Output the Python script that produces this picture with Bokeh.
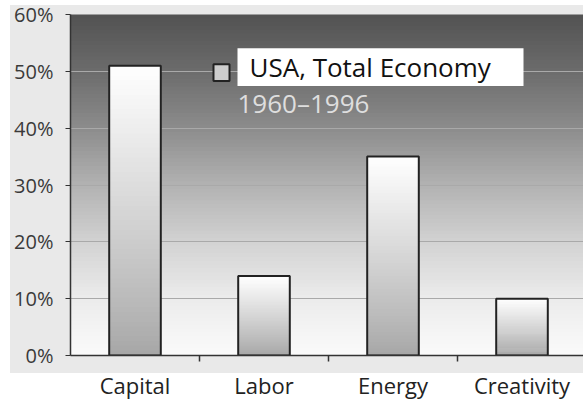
import numpy as np
from bokeh.plotting import figure
from bokeh.models import (Range1d, FixedTicker, NumeralTickFormatter, ColumnDataSource,
                          Label, BoxAnnotation)
from bokeh.embed import file_html
from bokeh.resources import INLINE

# ---- data ----
categories = ["Capital", "Labor", "Energy", "Creativity"]
shares = [0.51, 0.14, 0.35, 0.10]
y_ticks = [0.0, 0.1, 0.2, 0.3, 0.4, 0.5, 0.6]
legend_title = "USA, Total Economy"
legend_sub = "1960\u20131996"

# ---- layout ----
W, H = 583, 402
FL, FT, FB = 70, 14, 357          # frame left / top / bottom (px)
CAT_PX = 129.0
FRAME_W = W - FL
x_end = FRAME_W / CAT_PX
y_end = 0.6
FONT = "Open Sans"

p = figure(width=W, height=H, output_backend="svg", toolbar_location=None,
           x_range=Range1d(0, x_end), y_range=Range1d(0, y_end),
           min_border_left=FL, min_border_right=0, min_border_top=FT, min_border_bottom=H - FB,
           border_fill_color=None, outline_line_color=None, background_fill_color=None)
p.styles = {"background": "linear-gradient(#e9e9e9, #e9e9e9) 10px 5px / 573px 368px no-repeat, #ffffff"}

def gray(v):
    v = int(round(max(0, min(255, v))))
    return "#%02x%02x%02x" % (v, v, v)

# background gradient (dark top -> light bottom)
anchor_t = [0.0, 0.167, 0.333, 0.5, 0.667, 0.833, 1.0]
anchor_v = [0xfa, 0xec, 0xd2, 0xb2, 0x8c, 0x6c, 0x52]
nb = 90
edges = np.linspace(0, y_end, nb + 1)
bg_b = edges[:-1]
bg_t = edges[1:] + (edges[1] - edges[0]) * 0.6
bg_c = [gray(np.interp(((b + t2) / 2) / y_end, anchor_t, anchor_v)) for b, t2 in zip(edges[:-1], edges[1:])]
p.quad(left=0, right=x_end, bottom=bg_b, top=bg_t, fill_color=bg_c, line_color=None, level="image")

# bars with vertical gradient (white top -> gray bottom)
bw = 0.4
centers = [i + 0.5 for i in range(len(categories))]
L, R, B, T, C = [], [], [], [], []
ns = 60
for cx, v in zip(centers, shares):
    e = np.linspace(0, v, ns + 1)
    for k in range(ns):
        frac = (k + 0.5) / ns
        L.append(cx - bw / 2); R.append(cx + bw / 2)
        B.append(e[k]); T.append(min(v, e[k + 1] + (e[1] - e[0]) * 0.6))
        C.append(gray(0xa6 + (0xff - 0xa6) * frac ** 0.9))
p.quad(left=L, right=R, bottom=B, top=T, fill_color=C, line_color=None)
src = ColumnDataSource(dict(x=centers, top=shares))
p.vbar(x="x", top="top", bottom=0, width=bw, source=src, fill_color=None,
       line_color="#222222", line_width=2)

# grid
p.xgrid.visible = False
p.ygrid.ticker = FixedTicker(ticks=y_ticks)
p.ygrid.grid_line_color = "#a9a9a9"
p.ygrid.grid_line_width = 1

# y axis
ya = p.yaxis[0]
ya.ticker = FixedTicker(ticks=y_ticks)
ya.formatter = NumeralTickFormatter(format="0%")
ya.axis_line_color = "#333333"
ya.axis_line_width = 1.5
ya.major_tick_line_color = "#333333"
ya.major_tick_out = 5
ya.major_tick_in = 0
ya.minor_tick_line_color = None
ya.major_label_text_font = FONT
ya.major_label_text_font_size = "20px"
ya.major_label_text_color = "#3a3a3a"
ya.major_label_standoff = 12

# x axis
xa = p.xaxis[0]
xa.ticker = FixedTicker(ticks=centers, minor_ticks=[1, 2, 3])
xa.major_label_overrides = {c: n for c, n in zip(centers, categories)}
xa.axis_line_color = "#333333"
xa.axis_line_width = 1.5
xa.major_tick_line_color = None
xa.major_tick_out = 6
xa.minor_tick_line_color = "#333333"
xa.minor_tick_line_width = 1.5
xa.minor_tick_out = 6
xa.minor_tick_in = 0
xa.major_label_text_font = FONT
xa.major_label_text_font_size = "22px"
xa.major_label_text_color = "#222222"
xa.major_label_standoff = 8

# legend (manual)
def px_x(px):
    return (px - FL) / CAT_PX
def px_y(py):
    return (FB - py) / ((FB - FT) / y_end)

p.add_layout(BoxAnnotation(left=px_x(237), right=px_x(523), bottom=px_y(86), top=px_y(48),
                           fill_color="#ffffff", fill_alpha=1, line_color=None, level="annotation"))
p.add_layout(BoxAnnotation(left=px_x(213), right=px_x(229), bottom=px_y(81), top=px_y(64),
                           fill_color="#cdcdcd", fill_alpha=1, line_color="#222222", line_width=2,
                           line_alpha=1, level="annotation"))
p.add_layout(Label(x=px_x(249), y=px_y(67), text=legend_title, text_font=FONT,
                   text_font_size="26px", text_color="#111111", text_baseline="middle",
                   level="overlay"))
p.add_layout(Label(x=px_x(237), y=px_y(103), text=legend_sub, text_font=FONT,
                   text_font_size="26px", text_color="#dedede", text_baseline="middle",
                   level="overlay"))

open("out.html", "w").write(file_html(p, INLINE))
